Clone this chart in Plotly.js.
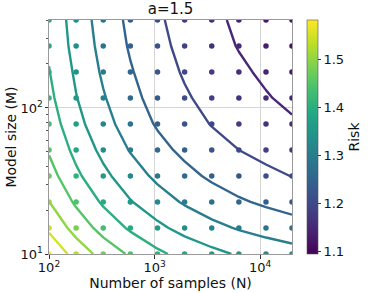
<!DOCTYPE html>
<html>
<head>
<meta charset="utf-8">
<script src="https://cdn.plot.ly/plotly-3.0.1.min.js"></script>
<style>html,body{margin:0;padding:0;background:#fff;}#chart{width:374px;height:293px;}</style>
</head>
<body>
<div id="chart"></div>
<script>
// Number of samples (x) and model size (y) grid
const samplesN = [100, 180.6, 326.4, 589.6, 1065, 1924, 3476, 6280, 11340, 20000];
const modelM = [10, 15.07, 22.71, 34.22, 51.57, 77.7, 117.1, 176.4, 265.5, 400];
// risk[j][i] : row = model size index, column = sample index
const risk = [
  [1.591, 1.531, 1.482, 1.443, 1.410, 1.384, 1.363, 1.345, 1.331, 1.320],
  [1.541, 1.481, 1.432, 1.393, 1.361, 1.334, 1.313, 1.296, 1.282, 1.270],
  [1.501, 1.442, 1.393, 1.353, 1.321, 1.295, 1.274, 1.256, 1.242, 1.231],
  [1.470, 1.410, 1.362, 1.322, 1.290, 1.264, 1.242, 1.225, 1.211, 1.199],
  [1.445, 1.386, 1.337, 1.297, 1.265, 1.239, 1.217, 1.200, 1.186, 1.174],
  [1.426, 1.366, 1.317, 1.278, 1.245, 1.219, 1.198, 1.180, 1.166, 1.155],
  [1.412, 1.352, 1.304, 1.264, 1.232, 1.206, 1.184, 1.167, 1.153, 1.141],
  [1.402, 1.342, 1.293, 1.254, 1.222, 1.195, 1.174, 1.157, 1.143, 1.131],
  [1.393, 1.333, 1.285, 1.245, 1.213, 1.187, 1.165, 1.148, 1.134, 1.122],
  [1.388, 1.328, 1.279, 1.239, 1.207, 1.181, 1.160, 1.142, 1.128, 1.117]
];
const contourLevels = {start: 1.15, end: 1.55, size: 0.05};
const riskRange = [1.095, 1.581];
const riskTicks = [1.1, 1.2, 1.3, 1.4, 1.5];
const xTickVals = [100, 1000, 10000];
const xTickText = ['10<sup>2</sup>', '10<sup>3</sup>', '10<sup>4</sup>'];
const yTickVals = [10, 100];
const yTickText = ['10<sup>1</sup>', '10<sup>2</sup>'];

// viridis reference colours (matplotlib) for building colour scales
const viridisStops = ['#440154', '#482475', '#414487', '#355f8d', '#2a788e', '#21918c',
                      '#22a884', '#44bf70', '#7ad151', '#bddf26', '#fde725'];
function hex2rgb(h) { return [1, 3, 5].map(k => parseInt(h.substr(k, 2), 16)); }
function viridisAt(t) {
  t = Math.max(0, Math.min(1, t));
  const p = t * (viridisStops.length - 1), k = Math.min(Math.floor(p), viridisStops.length - 2), f = p - k;
  const a = hex2rgb(viridisStops[k]), b = hex2rgb(viridisStops[k + 1]);
  return 'rgb(' + a.map((v, n) => Math.round(v + (b[n] - v) * f)).join(',') + ')';
}
const fullScale = viridisStops.map((c, k) => [k / (viridisStops.length - 1), c]);
// contour lines: Plotly stretches the scale over [start, end], so use the matching sub-range of viridis
const t0 = (contourLevels.start - riskRange[0]) / (riskRange[1] - riskRange[0]);
const t1 = (contourLevels.end - riskRange[0]) / (riskRange[1] - riskRange[0]);
const lineScale = [];
for (let k = 0; k <= 20; k++) { const s = k / 20; lineScale.push([s, viridisAt(t0 + (t1 - t0) * s)]); }

const px = [], py = [], pc = [];
for (let j = 0; j < modelM.length; j++) {
  for (let i = 0; i < samplesN.length; i++) {
    px.push(samplesN[i]); py.push(modelM[j]); pc.push(risk[j][i]);
  }
}
const font = "DejaVu Sans, Arial, sans-serif";

const contour = {
  type: 'contour', x: samplesN, y: modelM, z: risk,
  colorscale: lineScale,
  autocontour: false, contours: Object.assign({coloring: 'lines', showlabels: false}, contourLevels),
  line: {width: 2.4, smoothing: 0}, showscale: false, hoverinfo: 'skip'
};
const dots = {
  type: 'scatter', mode: 'markers', x: px, y: py,
  marker: {
    size: 5.5, color: pc, colorscale: fullScale, cmin: riskRange[0], cmax: riskRange[1],
    line: {width: 0},
    colorbar: {
      x: 1.062, xanchor: 'left', xpad: 0, y: 0.5, yanchor: 'middle', len: 1, lenmode: 'fraction', ypad: 0,
      thickness: 11, outlinewidth: 0.6, outlinecolor: '#555',
      tickvals: riskTicks, ticktext: riskTicks.map(v => v.toFixed(1)),
      ticks: 'outside', ticklen: 3, tickcolor: '#333', tickfont: {family: font, size: 13, color: '#111'},
      title: {text: 'Risk', side: 'right', font: {family: font, size: 14, color: '#111'}}
    }
  },
  hoverinfo: 'skip'
};

const layout = {
  width: 374, height: 293,
  margin: {l: 49, r: 74, t: 20, b: 39, pad: 0},
  paper_bgcolor: '#fff', plot_bgcolor: '#fff',
  font: {family: font, size: 13, color: '#111'},
  showlegend: false,
  title: {text: 'a=1.5', x: 0.5, xref: 'paper', xanchor: 'center', y: 0.97, yref: 'container', yanchor: 'middle',
          font: {family: font, size: 15, color: '#111'}},
  xaxis: {
    type: 'log', range: [2, Math.log10(20000)],
    tickvals: xTickVals, ticktext: xTickText, ticks: 'outside', ticklen: 3.5, tickcolor: '#333',
    ticklabelstandoff: -2,
    tickfont: {family: font, size: 13, color: '#111'},
    showgrid: true, gridcolor: '#d5d5d5', gridwidth: 1,
    showline: true, linecolor: '#999', linewidth: 1, mirror: true, zeroline: false,
    title: {text: 'Number of samples (N)', standoff: 0, font: {family: font, size: 14, color: '#111'}},
    automargin: false
  },
  yaxis: {
    type: 'log', range: [1, Math.log10(400)],
    tickvals: yTickVals, ticktext: yTickText, ticks: 'outside', ticklen: 3.5, tickcolor: '#333',
    ticklabelstandoff: -1,
    tickfont: {family: font, size: 13, color: '#111'},
    minor: {tickvals: [20, 30, 40, 50, 60, 70, 80, 90, 200, 300, 400], ticks: 'outside', ticklen: 2, tickcolor: '#555', showgrid: false},
    showgrid: true, gridcolor: '#d5d5d5', gridwidth: 1,
    showline: true, linecolor: '#999', linewidth: 1, mirror: true, zeroline: false,
    title: {text: 'Model size (M)', standoff: 0, font: {family: font, size: 14, color: '#111'}},
    automargin: false
  }
};

Plotly.newPlot('chart', [contour, dots], layout, {staticPlot: true, displayModeBar: false});
</script>
</body>
</html>
